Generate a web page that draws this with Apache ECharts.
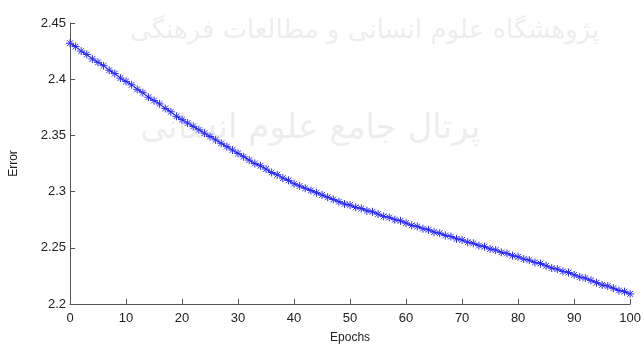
<!DOCTYPE html>
<html>
<head>
<meta charset="utf-8">
<script src="https://cdn.jsdelivr.net/npm/echarts@6/dist/echarts.min.js"></script>
<style>
  html, body { margin: 0; padding: 0; background: #fff; }
  #chart { width: 644px; height: 349px; }
</style>
</head>
<body>
<div id="chart"></div>
<script>
// epochs 0..100, error
const epochs = [
  0, 1, 2, 3, 4, 5, 6, 7, 8, 9, 10, 11, 12, 13, 14, 15, 16, 17, 18, 19, 20,
  21, 22, 23, 24, 25, 26, 27, 28, 29, 30, 31, 32, 33, 34, 35, 36, 37, 38, 39, 40,
  41, 42, 43, 44, 45, 46, 47, 48, 49, 50, 51, 52, 53, 54, 55, 56, 57, 58, 59, 60,
  61, 62, 63, 64, 65, 66, 67, 68, 69, 70, 71, 72, 73, 74, 75, 76, 77, 78, 79, 80,
  81, 82, 83, 84, 85, 86, 87, 88, 89, 90, 91, 92, 93, 94, 95, 96, 97, 98, 99, 100
];
const errorValues = [
  2.432, 2.429, 2.425, 2.422, 2.418, 2.415, 2.412, 2.408, 2.405, 2.401,
  2.398, 2.395, 2.391, 2.388, 2.384, 2.381, 2.378, 2.374, 2.371, 2.367,
  2.364, 2.361, 2.358, 2.355, 2.352, 2.349, 2.346, 2.343, 2.340, 2.337,
  2.334, 2.331, 2.328, 2.325, 2.323, 2.320, 2.317, 2.315, 2.312, 2.310,
  2.307, 2.305, 2.303, 2.301, 2.299, 2.297, 2.295, 2.293, 2.291, 2.289,
  2.288, 2.286, 2.285, 2.283, 2.282, 2.280, 2.278, 2.277, 2.275, 2.274,
  2.272, 2.270, 2.269, 2.267, 2.266, 2.264, 2.263, 2.261, 2.260, 2.258,
  2.257, 2.255, 2.254, 2.252, 2.251, 2.249, 2.248, 2.246, 2.245, 2.243,
  2.242, 2.240, 2.239, 2.237, 2.236, 2.234, 2.232, 2.231, 2.229, 2.228,
  2.226, 2.224, 2.223, 2.221, 2.219, 2.217, 2.216, 2.214, 2.212, 2.211,
  2.209
];
const watermarkLines = [
  "پژوهشگاه علوم انسانی و مطالعات فرهنگی",
  "پرتال جامع علوم انسانی"
];

const asterisk = "path://M0,-5L0,5M-5,0L5,0M-3.6,-3.6L3.6,3.6M-3.6,3.6L3.6,-3.6";
const axisColor = "#555";
const labelColor = "#222";

const chart = echarts.init(document.getElementById("chart"), null, { renderer: "canvas" });
chart.setOption({
  backgroundColor: "#fff",
  animation: false,
  textStyle: { fontFamily: "Liberation Sans, Arial, sans-serif" },
  grid: { left: 67, right: 12, top: 23, bottom: 43, containLabel: false },
  graphic: [
    {
      type: "text", left: 130, top: 18, z: -1, silent: true,
      style: { text: watermarkLines[0], font: "26px DejaVu Sans", fill: "#ededed" }
    },
    {
      type: "text", left: 140, top: 112, z: -1, silent: true,
      style: { text: watermarkLines[1], font: "34px DejaVu Sans", fill: "#ededed" }
    }
  ],
  xAxis: {
    type: "value",
    min: 0, max: 100, interval: 10,
    name: "Epochs", nameLocation: "middle", nameGap: 28,
    nameTextStyle: { color: labelColor, fontSize: 12 },
    axisLine: { show: true, lineStyle: { color: axisColor, width: 1 } },
    axisTick: { show: true, inside: true, length: 5, lineStyle: { color: axisColor } },
    axisLabel: { color: labelColor, fontSize: 13, margin: 8 },
    splitLine: { show: false }
  },
  yAxis: {
    type: "value",
    min: 2.2, max: 2.45, interval: 0.05,
    name: "Error", nameLocation: "middle", nameGap: 50,
    nameTextStyle: { color: labelColor, fontSize: 12 },
    axisLine: { show: true, lineStyle: { color: axisColor, width: 1 } },
    axisTick: { show: true, inside: true, length: 5, lineStyle: { color: axisColor } },
    axisLabel: { color: labelColor, fontSize: 13, margin: 4 },
    splitLine: { show: false }
  },
  series: [{
    type: "line",
    data: epochs.map((e, i) => [e, errorValues[i]]),
    symbol: asterisk,
    symbolSize: 8,
    showAllSymbol: true,
    lineStyle: { color: "#0000ff", width: 1 },
    itemStyle: { color: "none", borderColor: "#2a2aff", borderWidth: 1 }
  }]
});
</script>
</body>
</html>
